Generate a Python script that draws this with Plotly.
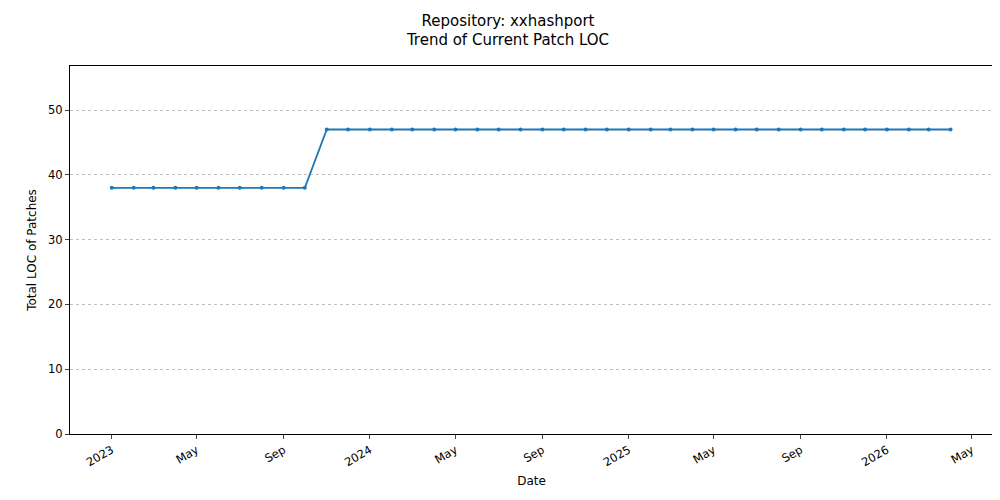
import plotly.graph_objects as go

# monthly snapshots, Jan 2023 .. Apr 2026
dates = []
for y in range(2023, 2027):
    for m in range(1, 13):
        if y == 2026 and m > 4:
            break
        dates.append("%d-%02d-01" % (y, m))
loc = [38] * 10 + [47] * 30

tick_vals = ["2023-01-01", "2023-05-01", "2023-09-01", "2024-01-01", "2024-05-01", "2024-09-01",
             "2025-01-01", "2025-05-01", "2025-09-01", "2026-01-01", "2026-05-01"]
tick_text = ["2023", "May", "Sep", "2024", "May", "Sep", "2025", "May", "Sep", "2026", "May"]

fig = go.Figure()
fig.add_trace(go.Scatter(
    x=dates, y=loc, mode="lines+markers",
    line=dict(color="#1f77b4", width=1.8),
    marker=dict(size=4, color="#1f77b4"),
    showlegend=False))

fig.update_layout(
    width=1000, height=500,
    margin=dict(l=62, r=15, t=58, b=74),
    plot_bgcolor="white", paper_bgcolor="white",
    font=dict(family="DejaVu Sans", size=11.5, color="black"),
    title=dict(text="Repository: xxhashport<br>Trend of Current Patch LOC",
               x=0.5, xanchor="center", y=0.965, yanchor="top", font=dict(size=15)))
fig.update_xaxes(
    range=["2022-11-03", "2026-05-31"], tickvals=tick_vals, ticktext=tick_text,
    tickangle=-30, ticks="outside", ticklen=4, showgrid=False, automargin=False,
    showline=True, linecolor="black", mirror=True,
    title=dict(text="Date", standoff=8, font=dict(size=12)))
fig.update_yaxes(
    range=[0, 56.8], tickvals=[0, 10, 20, 30, 40, 50], ticks="outside", ticklen=4,
    showgrid=True, gridcolor="#c0c0c0", griddash="dot", gridwidth=0.6, automargin=False,
    showline=True, linecolor="black", mirror=True, zeroline=False,
    title=dict(text="Total LOC of Patches", standoff=8, font=dict(size=12)))

fig.write_html("out.html")
